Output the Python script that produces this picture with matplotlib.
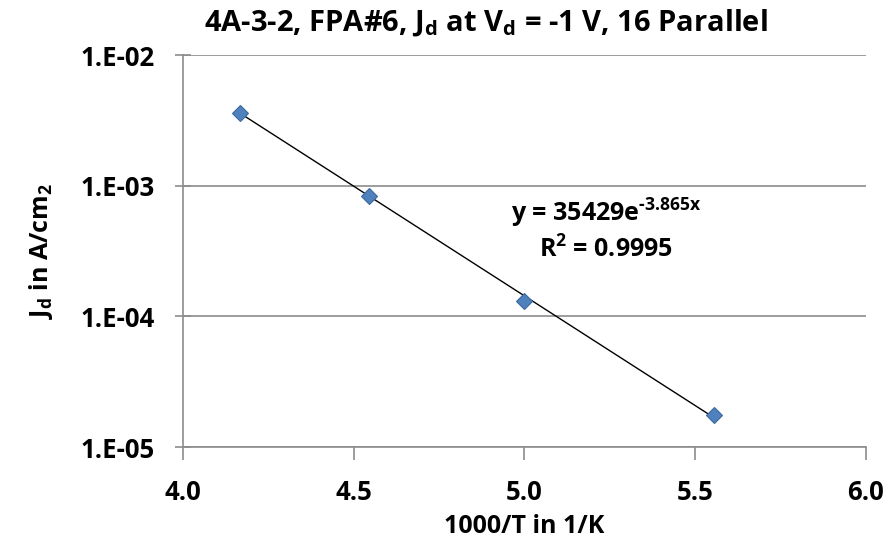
import numpy as np
import matplotlib
matplotlib.use("Agg")
import matplotlib.pyplot as plt
from matplotlib.ticker import FixedLocator, NullLocator

FONT = 'Open Sans'
plt.rcParams['font.family'] = [FONT, 'DejaVu Sans']
plt.rcParams['font.weight'] = 'bold'
plt.rcParams['mathtext.fontset'] = 'custom'
plt.rcParams['mathtext.rm'] = FONT + ':bold'
plt.rcParams['mathtext.it'] = FONT + ':bold'
plt.rcParams['mathtext.bf'] = FONT + ':bold'

# data: inverse temperature and dark current density
inv_T = [1000 / 240, 1000 / 220, 1000 / 200, 1000 / 180]
Jd = [3.6e-3, 8.4e-4, 1.31e-4, 1.76e-5]

# exponential fit from the chart
fit_a = 35429
fit_b = -3.865
r2 = 0.9995

x_ticks = [4.0, 4.5, 5.0, 5.5, 6.0]
y_ticks = [1e-5, 1e-4, 1e-3, 1e-2]
y_labels = ["1.E-05", "1.E-04", "1.E-03", "1.E-02"]

fig = plt.figure(figsize=(8.95, 5.56), dpi=100)
ax = fig.add_axes([0.2045, 0.196, 0.763, 0.705])

xf = np.linspace(min(inv_T), max(inv_T), 50)
ax.plot(xf, fit_a * np.exp(fit_b * xf), color='black', lw=1.0, zorder=2)
ax.plot(inv_T, Jd, linestyle='none', marker='D', markersize=8.5,
        markerfacecolor='#4F81BD', markeredgecolor='#3A6AA0', markeredgewidth=0.8, zorder=3)

ax.set_yscale('log')
ax.set_xlim(4.0, 6.0)
ax.set_ylim(1e-5, 1e-2)
ax.xaxis.set_major_locator(FixedLocator(x_ticks))
ax.set_xticklabels([f"{v:.1f}" for v in x_ticks])
ax.yaxis.set_major_locator(FixedLocator(y_ticks))
ax.yaxis.set_minor_locator(NullLocator())
ax.set_yticklabels(y_labels)

ax.grid(axis='y', color='#8C8C8C', lw=1.2)
ax.set_axisbelow(True)
for s in ['top', 'right']:
    ax.spines[s].set_visible(False)
for s in ['left', 'bottom']:
    ax.spines[s].set_color('#8C8C8C')
    ax.spines[s].set_linewidth(1.2)
ax.tick_params(axis='x', direction='out', length=9, width=1.2, color='#8C8C8C',
               labelsize=18.5, pad=14)
ax.tick_params(axis='y', direction='inout', length=12, width=1.2, color='#8C8C8C',
               labelsize=18.5, pad=14)
for lab in ax.get_xticklabels() + ax.get_yticklabels():
    lab.set_fontweight('bold')

ax.set_xlabel("1000/T in 1/K", fontsize=18, fontweight='bold', labelpad=6)
ax.set_ylabel("J$_d$ in A/cm$_2$", fontsize=18, fontweight='bold', labelpad=19)
fig.text(0.543, 0.960, "4A-3-2, FPA#6, J$_d$ at V$_d$ = -1 V, 16 Parallel",
         ha='center', va='center', fontsize=21, fontweight='bold')

ax.text(0.619, 0.597, f"y = {fit_a}e$^{{\\text{{{fit_b}x}}}}$", transform=ax.transAxes,
        ha='center', va='center', fontsize=18, fontweight='bold')
ax.text(0.619, 0.503, f"R$^2$ = {r2}", transform=ax.transAxes,
        ha='center', va='center', fontsize=18, fontweight='bold')

fig.savefig("out.png", dpi=100)
